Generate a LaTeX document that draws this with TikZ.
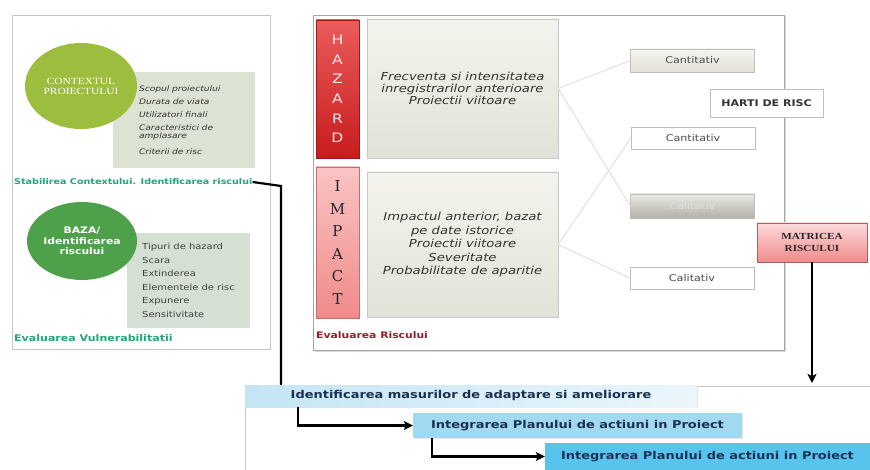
\documentclass[tikz,border=0pt]{standalone}
\usepackage{fontspec}
\setmainfont[FakeStretch=1.2]{DejaVu Sans}
\newfontfamily\capsfont[FakeStretch=1.2]{Liberation Serif}
\newfontfamily\barfont{DejaVu Serif}
\usepackage{xcolor}
\usepackage{tikz}
\usetikzlibrary{positioning,arrows.meta,shapes.geometric,shadows}

\definecolor{olivegreen}{RGB}{157,189,62}
\definecolor{leafgreen}{RGB}{78,160,74}
\definecolor{sagebox}{RGB}{221,227,212}
\definecolor{sageboxtwo}{RGB}{213,223,212}
\definecolor{tealtext}{RGB}{36,164,122}
\definecolor{hazlight}{RGB}{234,92,90}
\definecolor{hazdark}{RGB}{200,28,30}
\definecolor{implight}{RGB}{250,196,196}
\definecolor{impdark}{RGB}{240,138,138}
\definecolor{paper}{RGB}{244,244,238}
\definecolor{paperdark}{RGB}{226,226,216}
\definecolor{riskred}{RGB}{150,30,40}
\definecolor{navytext}{RGB}{27,48,82}
\definecolor{identblue}{RGB}{196,229,244}
\definecolor{planblue}{RGB}{160,217,241}
\definecolor{planbluetwo}{RGB}{88,196,238}

\tikzset{every node/.style={font=\small}}

\begin{document}
\begin{tikzpicture}[x=1pt,y=-1pt,
  panel/.style={draw=#1, line width=0.9pt, fill=white},
  bubble/.style={ellipse, fill=#1, text=white, align=center, inner sep=0pt},
  listbox/.style={fill=#1, align=left, inner ysep=0pt},
  paperbox/.style={draw=black!22, top color=paper, bottom color=paperdark, align=center,
    drop shadow={opacity=0.25, shadow xshift=1pt, shadow yshift=-1pt}},
  smallbox/.style={draw=black!25, minimum width=124pt, minimum height=23pt,
    font=\fontsize{9.3}{11}\selectfont, text=black!70},
  link/.style={draw=black!10, line width=1.2pt},
  flow/.style={line width=2.2pt, -{Stealth[length=9pt,width=9pt,inset=2pt]}},
  planbox/.style={minimum height=25pt, font=\fontsize{10.8}{12}\bfseries, text=navytext,
    drop shadow={opacity=0.2, shadow xshift=1pt, shadow yshift=-1pt}}]

\useasboundingbox (0,0) rectangle (870,470);

\draw[panel=black!12!sagebox] (12,15) rectangle (270,349);
\draw[panel=black!35, drop shadow={opacity=0.3, shadow xshift=1.5pt, shadow yshift=-1.5pt}] (313,15) rectangle (784,350);

\node[listbox=sagebox, minimum width=142pt, minimum height=96pt, text width=90pt, inner xsep=26pt,
  font=\fontsize{7.6}{8}\selectfont\itshape, text=black!80] (contextlist) at (184,120)
  {Scopul proiectului\\[5pt] Durata de viata\\[5pt] Utilizatori finali\\[5pt] Caracteristici de\\ amplasare\\[8pt] Criterii de risc};
\node[bubble=olivegreen, minimum width=112pt, minimum height=86pt,
  font=\capsfont\fontsize{9.5}{10}\selectfont] (context) at (81,86) {CONTEXTUL\\PROIECTULUI};
\node[anchor=west, inner sep=0pt, text=tealtext, font=\fontsize{8}{9}\bfseries] (stab) at (14,182)
  {Stabilirea Contextului. Identificarea riscului};

\node[listbox=sageboxtwo, minimum width=123pt, minimum height=95pt,
  font=\fontsize{8.3}{13.5}\selectfont, text=black!75] (bazalist) at (188.5,280.5)
  {Tipuri de hazard\\ Scara\\ Extinderea\\ Elementele de risc\\ Expunere\\ Sensitivitate};
\node[bubble=leafgreen, minimum width=110pt, minimum height=78pt,
  font=\fontsize{9}{10.5}\bfseries] (baza) at (82,241) {BAZA/\\Identificarea\\riscului};
\node[anchor=west, inner sep=0pt, text=tealtext, font=\fontsize{9.2}{10}\bfseries] (evalvuln) at (14,338)
  {Evaluarea Vulnerabilitatii};

\node[draw=hazdark!80!black, top color=hazlight, bottom color=hazdark, text=white!90!red,
  minimum width=43pt, minimum height=138pt, align=center, inner sep=0pt,
  font=\fontsize{13}{19.6}\selectfont] (hazard) at (337.5,89) {H\\A\\Z\\A\\R\\D};
\node[paperbox, minimum width=191pt, minimum height=139pt, text=black!80,
  font=\fontsize{11}{12}\selectfont\itshape] (hazbox) at (462.5,88.5)
  {Frecventa si intensitatea\\ inregistrarilor anterioare\\ Proiectii viitoare};

\node[draw=impdark!80!black, top color=implight, bottom color=impdark, text=black!85,
  minimum width=43pt, minimum height=151pt, align=center, inner sep=0pt,
  font=\barfont\fontsize{15}{22.6}\selectfont] (impact) at (337.5,242.5) {I\\M\\P\\A\\C\\T};
\node[paperbox, minimum width=191pt, minimum height=145pt, text=black!80,
  font=\fontsize{11}{13.5}\selectfont\itshape] (impbox) at (462.5,244.5)
  {Impactul anterior, bazat\\ pe date istorice\\ Proiectii viitoare\\ Severitate\\ Probabilitate de aparitie};
\node[anchor=west, inner sep=0pt, text=riskred, font=\fontsize{9}{10}\bfseries] (evalrisk) at (316,335)
  {Evaluarea Riscului};

\node[smallbox, top color=paper, bottom color=paperdark] (cant1) at (692.5,60.5) {Cantitativ};
\node[smallbox, fill=white, minimum height=22pt] (cant2) at (693,138) {Cantitativ};
\node[smallbox, top color=paperdark!70, bottom color=black!22!paperdark, text=white!88!black,
  minimum height=24pt] (cal1) at (692.5,206) {Calitativ};
\node[smallbox, fill=white, minimum height=22pt] (cal2) at (692,278) {Calitativ};

\draw[link] (hazbox.east) -- (cant1.west);
\draw[link] (hazbox.east) -- (cal1.west);
\draw[link] (impbox.east) -- (cant2.west);
\draw[link] (impbox.east) -- (cal2.west);

\node[draw=blue!20!black!25, fill=white, minimum width=113pt, minimum height=28pt,
  font=\fontsize{9.2}{11}\bfseries, text=black!80] (harti) at (766.5,103) {HARTI DE RISC};
\node[draw=impdark!70!black, top color=implight!60!white, bottom color=impdark, minimum width=110pt,
  minimum height=39pt, align=center, text=black!85,
  font=\capsfont\fontsize{9.3}{12}\bfseries] (matrix) at (812,242.5) {MATRICEA\\RISCULUI};

\draw[draw=black!22, line width=0.9pt] (245,470) -- (245,386) -- (870,386);

\node[planbox, left color=identblue, right color=identblue!35!white, minimum width=452pt,
  minimum height=22pt] (ident) at (471,396) {Identificarea masurilor de adaptare si ameliorare};
\node[planbox, fill=planblue, minimum width=329pt] (plan1) at (577.5,425.5)
  {Integrarea Planului de actiuni in Proiect};
\node[planbox, fill=planbluetwo, minimum width=325pt, minimum height=27pt] (plan2) at (707.5,456.5)
  {Integrarea Planului de actiuni in Proiect};

\coordinate (bend) at (281,186);
\coordinate (mtxend) at (812,383);
\coordinate (fromident) at (298,407);
\coordinate (fromplan) at (432,438);

\draw[line width=2.2pt] (stab.east) -- (bend) -- (bend |- ident.north);
\draw[flow] (matrix) -- (mtxend);
\draw[flow] (fromident) |- (plan1.west);
\draw[flow] (fromplan) |- (plan2.west);

\end{tikzpicture}
\end{document}
